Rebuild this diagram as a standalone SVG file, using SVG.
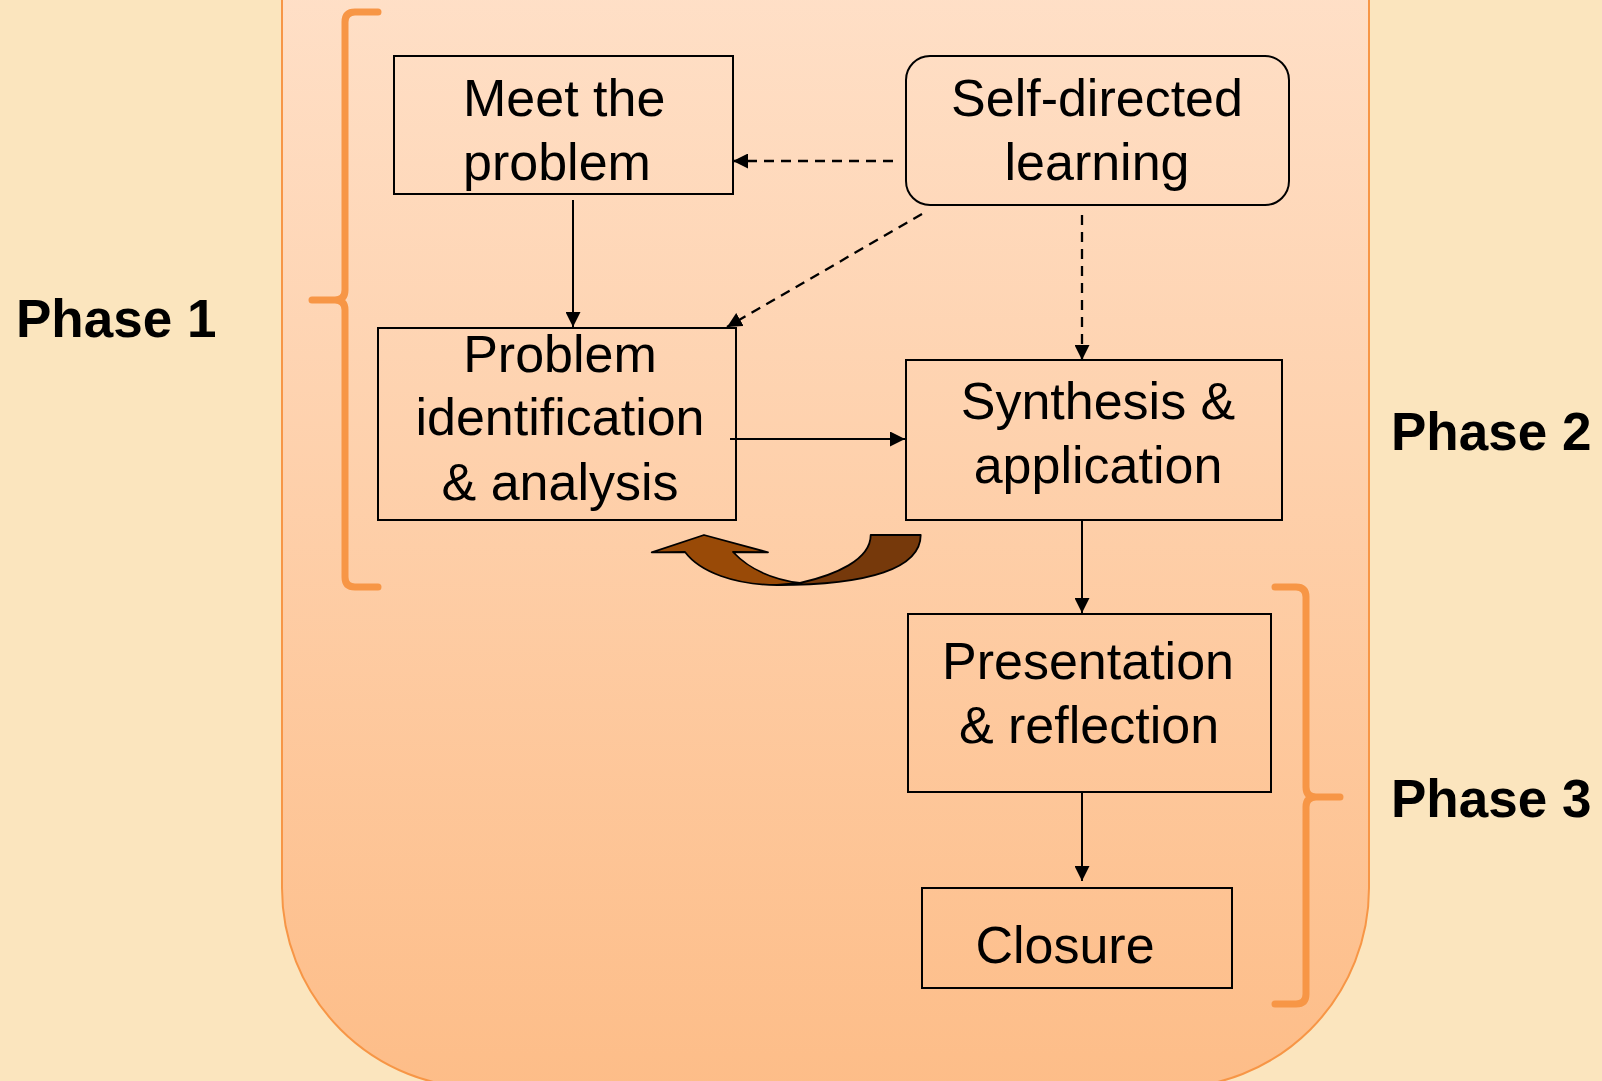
<svg xmlns="http://www.w3.org/2000/svg" width="1602" height="1081" viewBox="0 0 1602 1081">
<defs>
<linearGradient id="bg" x1="0" y1="0" x2="0" y2="1">
<stop offset="0" stop-color="#FFE6D3"/>
<stop offset="1" stop-color="#FDBD88"/>
</linearGradient>
<marker id="ah" markerWidth="15" markerHeight="15" refX="15" refY="7.5" orient="auto" markerUnits="userSpaceOnUse">
<path d="M0,0 L15,7.5 L0,15 Z" fill="#000"/>
</marker>
<style>
.box{fill:none;stroke:#000;stroke-width:2}
.t{font-family:"Liberation Sans",Arial,sans-serif;font-size:52px;fill:#000;text-anchor:middle}
.ph{font-family:"Liberation Sans",Arial,sans-serif;font-size:53px;font-weight:bold;fill:#000}
.c{stroke:#000;stroke-width:2;fill:none}
.d{stroke-dasharray:10 7;stroke-width:2.3}
.br{fill:none;stroke:#F79646;stroke-width:7;stroke-linecap:round;stroke-linejoin:round}
</style>
</defs>
<rect x="0" y="0" width="1602" height="1081" fill="#FBE5BE"/>
<rect x="282" y="-220" width="1087" height="1308" rx="200" ry="200" fill="url(#bg)" stroke="#F79646" stroke-width="2"/>

<g id="brace1"><path class="br" d="M378,12 L355,12 Q345,12 345,22 L345,290 Q345,300 335,300 L312,300 M335,300 Q345,300 345,310 L345,577 Q345,587 355,587 L378,587"/></g>
<g id="brace3"><path class="br" d="M1275,587 L1296,587 Q1306,587 1306,597 L1306,787 Q1306,797 1316,797 L1340,797 M1316,797 Q1306,797 1306,807 L1306,994 Q1306,1004 1296,1004 L1275,1004"/></g>

<g id="phase1"><text class="ph" x="16" y="337">Phase 1</text></g>
<g id="phase2"><text class="ph" x="1391" y="450">Phase 2</text></g>
<g id="phase3"><text class="ph" x="1391" y="817">Phase 3</text></g>

<g id="connectors">
<line class="c" x1="573" y1="200" x2="573" y2="327" marker-end="url(#ah)"/>
<line class="c d" x1="893" y1="161" x2="733" y2="161" marker-end="url(#ah)"/>
<line class="c d" x1="922" y1="214" x2="727" y2="327" marker-end="url(#ah)"/>
<line class="c d" x1="1082" y1="215" x2="1082" y2="360" marker-end="url(#ah)"/>
<line class="c" x1="730" y1="439" x2="905" y2="439" marker-end="url(#ah)"/>
<line class="c" x1="1082" y1="520" x2="1082" y2="613" marker-end="url(#ah)"/>
<line class="c" x1="1082" y1="792" x2="1082" y2="881" marker-end="url(#ah)"/>
</g>

<g id="loop-arrow" stroke="#000" stroke-width="1.8" stroke-linejoin="round">
<path fill="#76390B" d="M870.7,535 L920.7,535 C920.7,568 870,585 777,585 L800,583 C835,575 870.7,560 870.7,535 Z"/>
<path fill="#994A07" d="M685,552 L651.7,552.3 L704,535 L768,552.3 L733,552 C750,570 775,580 800,583 L777,585 C735,585 700,572 685,552 Z"/>
</g>

<g id="meet">
<rect class="box" x="394" y="56" width="339" height="138"/>
<text class="t" x="463" y="116" style="text-anchor:start">Meet the</text>
<text class="t" x="463" y="180" style="text-anchor:start">problem</text>
</g>
<g id="sdl">
<rect class="box" x="906" y="56" width="383" height="149" rx="24" ry="24"/>
<text class="t" x="1097" y="116">Self-directed</text>
<text class="t" x="1097" y="180">learning</text>
</g>
<g id="pia">
<rect class="box" x="378" y="328" width="358" height="192"/>
<text class="t" x="560" y="372">Problem</text>
<text class="t" x="560" y="435">identification</text>
<text class="t" x="560" y="500">&amp; analysis</text>
</g>
<g id="synth">
<rect class="box" x="906" y="360" width="376" height="160"/>
<text class="t" x="1098" y="419">Synthesis &amp;</text>
<text class="t" x="1098" y="483">application</text>
</g>
<g id="pres">
<rect class="box" x="908" y="614" width="363" height="178"/>
<text class="t" x="1088" y="679">Presentation</text>
<text class="t" x="1089" y="743">&amp; reflection</text>
</g>
<g id="closure">
<rect class="box" x="922" y="888" width="310" height="100"/>
<text class="t" x="1065" y="963">Closure</text>
</g>
</svg>
